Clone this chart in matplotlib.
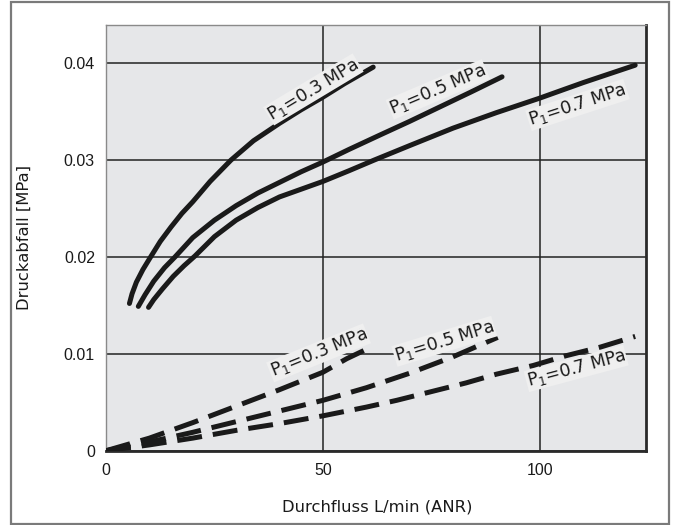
import matplotlib
matplotlib.use("Agg")
import matplotlib.pyplot as plt
from matplotlib.patches import Rectangle

# Solid curves (upper group)
s03_x = [5.4, 6, 7, 8.5, 10, 12.5, 15, 17.5, 20, 24, 28.8, 34, 40, 45, 50, 55, 61.6]
s03_y = [0.0152, 0.0162, 0.0174, 0.0187, 0.0198, 0.0216, 0.0231, 0.0245, 0.0257, 0.0278,
         0.0300, 0.0320, 0.0338, 0.0352, 0.0365, 0.0379, 0.0396]
s05_x = [7.45, 9, 11, 13.5, 15.9, 20, 25, 30, 35, 40, 45, 50, 56, 63.2, 70, 77, 84, 91.3]
s05_y = [0.0149, 0.0161, 0.0175, 0.0189, 0.0200, 0.0220, 0.0238, 0.0253, 0.0266, 0.0277,
         0.0288, 0.0298, 0.0311, 0.0326, 0.0340, 0.0355, 0.0370, 0.0386]
s07_x = [9.8, 11, 13, 15.5, 18, 20.5, 25, 30, 35, 40, 45, 50, 56, 61.8, 70, 80, 90, 100, 110, 122]
s07_y = [0.0148, 0.0156, 0.0167, 0.0180, 0.0191, 0.0201, 0.0221, 0.0238, 0.0251, 0.0262,
         0.0270, 0.0278, 0.0289, 0.0300, 0.0315, 0.0333, 0.0349, 0.0364, 0.0380, 0.0398]

# Dashed curves (lower group)
d03_x = [0, 10, 20, 30, 40, 50, 55.5, 61.6]
d03_y = [0, 0.0013, 0.0029, 0.0046, 0.0063, 0.0081, 0.0095, 0.0108]
d05_x = [0, 10, 20, 30, 40, 50, 60, 70, 80, 90.3]
d05_y = [0, 0.0009, 0.0019, 0.0030, 0.0041, 0.0052, 0.0065, 0.0080, 0.0097, 0.0117]
d07_x = [0, 10, 20, 30, 40, 50, 60, 67, 75, 83, 90, 98.5, 106, 114, 122]
d07_y = [0, 0.0006, 0.0013, 0.0021, 0.0028, 0.0036, 0.0045, 0.0052, 0.0061, 0.0070, 0.0079,
         0.0088, 0.0098, 0.0107, 0.0118]

labels = [r"P$_1$=0.3 MPa", r"P$_1$=0.5 MPa", r"P$_1$=0.7 MPa"]
solid_label_pos = [(47.8, 0.0373, 31), (76.5, 0.0373, 23), (108.7, 0.0357, 18)]
dashed_label_pos = [(49, 0.0101, 22), (78, 0.0113, 17), (108.4, 0.0085, 15)]

xticks = [0, 50, 100]
yticks = [0, 0.01, 0.02, 0.03, 0.04]
yticklabels = ["0", "0.01", "0.02", "0.03", "0.04"]

fig = plt.figure(figsize=(6.74, 5.25), dpi=100)
ax = fig.add_axes([0.1573, 0.1415, 0.8012, 0.8109])
ax.set_facecolor("#e6e7e9")

# figure frame
fig.patches.append(Rectangle((11 / 674, 1 / 525), 658 / 674, 522 / 525, transform=fig.transFigure,
                             fill=False, edgecolor="#7a7a7a", linewidth=1.6))

for x, y in [(s03_x, s03_y), (s05_x, s05_y), (s07_x, s07_y)]:
    ax.plot(x, y, color="#1a1a1a", lw=3.6, solid_capstyle="round", solid_joinstyle="round", zorder=3)
for x, y in [(d03_x, d03_y), (d05_x, d05_y), (d07_x, d07_y)]:
    ax.plot(x, y, color="#1a1a1a", lw=3.6, dashes=(5, 2.2), dash_capstyle="butt", zorder=3)

for (lx, ly, rot), t in zip(solid_label_pos + dashed_label_pos, labels + labels):
    ax.text(lx, ly, t, rotation=rot, rotation_mode="anchor", ha="center", va="center",
            fontsize=12.5, color="#1a1a1a", zorder=4,
            bbox=dict(facecolor="#efefef", edgecolor="none", pad=0.5))

ax.set_xlim(0, 124.5)
ax.set_ylim(0, 0.04395)
ax.set_xticks(xticks)
ax.set_yticks(yticks)
ax.set_yticklabels(yticklabels)
ax.tick_params(length=0, labelsize=11.5, colors="#1a1a1a")
ax.tick_params(axis="x", pad=9)
ax.tick_params(axis="y", pad=8)
for lab in ax.get_xticklabels() + ax.get_yticklabels():
    lab.set_family("Liberation Sans")
ax.grid(True, color="#222222", lw=1.1)
ax.set_axisbelow(True)

ax.spines["left"].set_color("#8a8a8a")
ax.spines["top"].set_color("#8a8a8a")
ax.spines["left"].set_linewidth(1.0)
ax.spines["top"].set_linewidth(1.0)
ax.spines["right"].set_color("#2a2a2a")
ax.spines["bottom"].set_color("#2a2a2a")
ax.spines["right"].set_linewidth(2.0)
ax.spines["bottom"].set_linewidth(2.0)

fig.text(377 / 674, 1 - 507 / 525, "Durchfluss L/min (ANR)", ha="center", va="center",
         fontsize=11.8, color="#1a1a1a")
fig.text(24 / 674, 1 - 237.5 / 525, "Druckabfall [MPa]", ha="center", va="center",
         rotation=90, fontsize=11.8, color="#1a1a1a")

fig.savefig("out.png", dpi=100)
